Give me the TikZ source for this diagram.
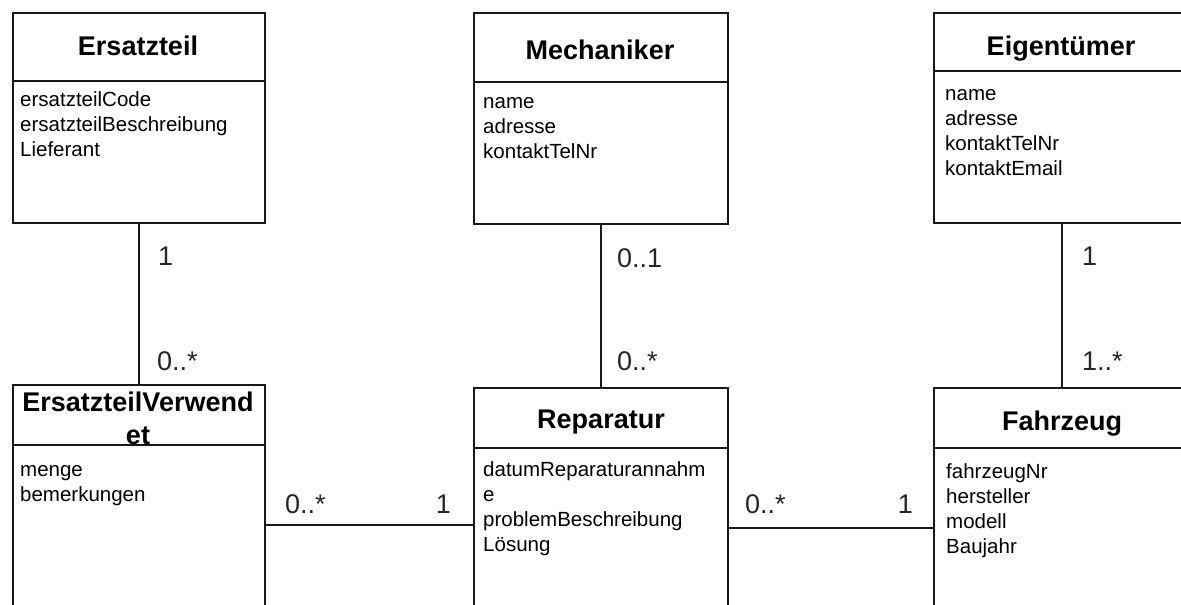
\documentclass[tikz,border=0pt]{standalone}
\usepackage{fontspec}
\setmainfont{Liberation Sans}
\begin{document}
\begin{tikzpicture}[x=1pt,y=-1pt,
  box/.style={draw=black!90,line width=2pt,rectangle,inner sep=0pt,anchor=north west},
  ttl/.style={font=\fontsize{27}{33}\selectfont\bfseries,inner sep=0pt,anchor=base},
  attr/.style={font=\fontsize{20.5}{25}\selectfont,align=left,inner sep=0pt,anchor=north west},
  mult/.style={font=\fontsize{27}{30}\selectfont,inner sep=0pt,text=black!85},
  conn/.style={line width=2pt,draw=black!90}]
\useasboundingbox (0,0) rectangle (1181,605);
\clip (0,0) rectangle (1181,605);
\fill[white] (0,0) rectangle (1181,605);

% class boxes
\node[box,minimum width=252pt,minimum height=210pt] (et) at (12,12) {};
\node[box,minimum width=254pt,minimum height=211pt] (mech) at (473,12) {};
\node[box,minimum width=256pt,minimum height=210pt] (eig) at (933,12) {};
\node[box,minimum width=252pt,minimum height=236pt] (esv) at (12,384) {};
\node[box,minimum width=254pt,minimum height=233pt] (rep) at (473,387) {};
\node[box,minimum width=256pt,minimum height=233pt] (fz) at (933,387) {};

% dividers
\draw[conn] ([yshift=-69pt]et.north west) -- ([yshift=-69pt]et.north east);
\draw[conn] ([yshift=-70pt]mech.north west) -- ([yshift=-70pt]mech.north east);
\draw[conn] ([yshift=-59pt]eig.north west) -- ([yshift=-59pt]eig.north east);
\draw[conn] ([yshift=-61pt]esv.north west) -- ([yshift=-61pt]esv.north east);
\draw[conn] ([yshift=-61pt]rep.north west) -- ([yshift=-61pt]rep.north east);
\draw[conn] ([yshift=-61pt]fz.north west) -- ([yshift=-61pt]fz.north east);

% titles
\node[ttl] (etT) at (138,55) {Ersatzteil};
\node[ttl] (mechT) at (600,59) {Mechaniker};
\node[ttl] (eigT) at (1061,55) {Eigentümer};
\node[ttl,anchor=north,align=center] (esvT) at (138,392) {ErsatzteilVerwend\\et};
\node[ttl] (repT) at (601,428) {Reparatur};
\node[ttl] (fzT) at (1062,430) {Fahrzeug};

% attributes
\node[attr] (etA) at (20,90) {\rule{0pt}{16pt}ersatzteilCode\\ersatzteilBeschreibung\\Lieferant};
\node[attr] (mechA) at (483,92) {\rule{0pt}{16pt}name\\adresse\\kontaktTelNr};
\node[attr] (eigA) at (945,84) {\rule{0pt}{16pt}name\\adresse\\kontaktTelNr\\kontaktEmail};
\node[attr] (esvA) at (20,460) {\rule{0pt}{16pt}menge\\bemerkungen};
\node[attr] (repA) at (483,460) {\rule{0pt}{16pt}datumReparaturannahm\\e\\problemBeschreibung\\Lösung};
\node[attr] (fzA) at (946,462) {\rule{0pt}{16pt}fahrzeugNr\\hersteller\\modell\\Baujahr};

% connectors
\draw[conn] (et.south) -- (esv.north);
\draw[conn] (mech.south) -- (rep.north);
\draw[conn] (eig.south) -- (fz.north);
\draw[conn] ([yshift=-141pt]esv.north east) -- ([yshift=-138pt]rep.north west);
\draw[conn] ([yshift=-141pt]rep.north east) -- ([yshift=-141pt]fz.north west);

% multiplicities
\node[mult,anchor=base west] (m1) at (158,265) {1};
\node[mult,anchor=base west] (m2) at (157,370) {0..*};
\node[mult,anchor=base west] (m3) at (617,267) {0..1};
\node[mult,anchor=base west] (m4) at (617,370) {0..*};
\node[mult,anchor=base west] (m5) at (1082,265) {1};
\node[mult,anchor=base west] (m6) at (1082,370) {1..*};
\node[mult,anchor=base west] (m7) at (285,513) {0..*};
\node[mult,anchor=base east] (m8) at (451,513) {1};
\node[mult,anchor=base west] (m9) at (745,513) {0..*};
\node[mult,anchor=base east] (m10) at (913,513) {1};
\end{tikzpicture}
\end{document}
